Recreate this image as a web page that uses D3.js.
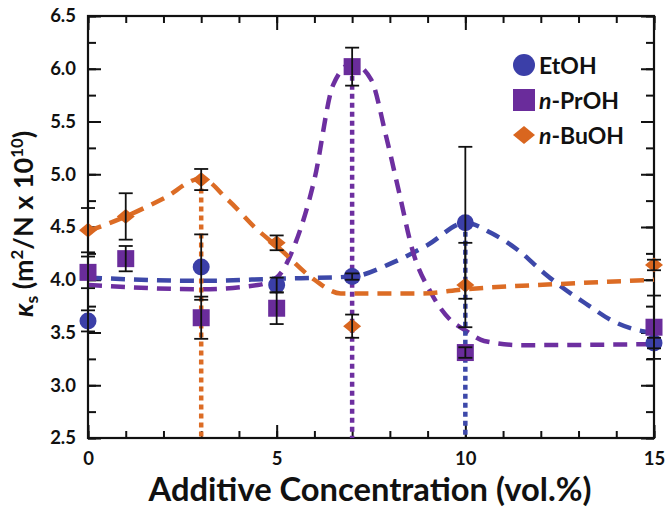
<!DOCTYPE html>
<html>
<head>
<meta charset="utf-8">
<script src="https://cdn.jsdelivr.net/npm/d3@7"></script>
<style>
  body { margin: 0; background: #fff; }
  svg { display: block; font-family: Lato, "Open Sans", sans-serif; font-weight: 700; }
</style>
</head>
<body>
<div id="chart"></div>
<script>
// measured points (value +/- error)
const etohX = [0, 3, 5, 7, 10, 15];
const etohY = [3.61, 4.12, 3.95, 4.03, 4.54, 3.40];
const etohErr = [0.1, 0.31, 0.07, 0.03, 0.72, 0.05];

const prohX = [0, 1, 3, 5, 7, 10, 15];
const prohY = [4.07, 4.2, 3.64, 3.73, 6.02, 3.31, 3.55];
const prohErr = [0.15, 0.12, 0.2, 0.15, 0.18, 0.05, 0.3];

const buohX = [0, 1, 3, 5, 7, 10, 15];
const buohY = [4.47, 4.6, 4.95, 4.35, 3.56, 3.95, 4.14];
const buohErr = [0.21, 0.22, 0.1, 0.07, 0.11, 0.4, 0.05];

// dashed trend curves
const etohFitX = [0, 3, 5, 7, 8, 9, 10, 10.7, 11.4, 12.1, 12.6, 13.25, 13.9, 14.6, 15];
const etohFitY = [4.02, 3.99, 4.01, 4.03, 4.15, 4.33, 4.54, 4.44, 4.28, 4.06, 3.92, 3.76, 3.61, 3.52, 3.5];
const prohFitX = [0, 3, 4.5, 5, 5.5, 6, 6.5, 7, 7.5, 7.9, 8.25, 8.6, 9.1, 9.6, 10, 10.5, 11.5, 15];
const prohFitY = [3.95, 3.91, 3.95, 4.02, 4.35, 4.95, 5.85, 6.05, 5.9, 5.36, 4.82, 4.28, 3.87, 3.62, 3.52, 3.42, 3.38, 3.39];
const buohFitX = [0, 1, 2, 3, 3.7, 4.5, 5, 6, 6.7, 8.8, 10, 12.5, 15];
const buohFitY = [4.46, 4.6, 4.77, 4.96, 4.76, 4.47, 4.32, 4.0, 3.87, 3.87, 3.91, 3.96, 4.0];

// x of the dotted drop line for each series (its peak)
const dropX = [10, 7, 3];

const seriesNames = ['EtOH', 'n-PrOH', 'n-BuOH'];
const markerColors = ['#3b3fa8', '#6a2c9b', '#d9661f'];
const lineColors = ['#3d48a9', '#6d2fa0', '#dc6c25'];
const shapes = ['circle', 'square', 'diamond'];

const xTicksMajor = [0, 5, 10, 15];
const yTicksMajor = ['2.5', '3.0', '3.5', '4.0', '4.5', '5.0', '5.5', '6.0', '6.5'];

const width = 665, height = 508;
const plot = { left: 88, right: 654, top: 16, bottom: 438 };

const svg = d3.select('#chart').append('svg')
  .attr('width', width)
  .attr('height', height);

const x = d3.scaleLinear().domain([0, 15]).range([plot.left, plot.right]);
const y = d3.scaleLinear().domain([2.5, 6.5]).range([plot.bottom, plot.top]);

const series = [
  { xs: etohX, ys: etohY, err: etohErr, fx: etohFitX, fy: etohFitY },
  { xs: prohX, ys: prohY, err: prohErr, fx: prohFitX, fy: prohFitY },
  { xs: buohX, ys: buohY, err: buohErr, fx: buohFitX, fy: buohFitY },
].map((s, i) => ({
  ...s,
  name: seriesNames[i],
  color: markerColors[i],
  lineColor: lineColors[i],
  shape: shapes[i],
  drop: dropX[i],
  points: s.xs.map((v, j) => ({ x: v, y: s.ys[j], e: s.err[j] })),
  fit: s.fx.map((v, j) => [v, s.fy[j]]),
}));

// axes: inward ticks on all four sides
const minorX = d3.range(0, 16);
const minorY = d3.range(2.5, 6.51, 0.25);
const majorY = yTicksMajor.map(Number);

function tickAxis(axisFn, scale, values, size) {
  return axisFn(scale).tickValues(values).tickSize(-size).tickFormat('');
}

const axes = svg.append('g').attr('class', 'axes');

axes.append('g').attr('transform', `translate(0,${plot.bottom})`)
  .call(tickAxis(d3.axisBottom, x, minorX, 7));
axes.append('g').attr('transform', `translate(0,${plot.bottom})`)
  .call(d3.axisBottom(x).tickValues(xTicksMajor).tickSize(-13).tickPadding(14)
    .tickFormat(d3.format('d')));
axes.append('g').attr('transform', `translate(0,${plot.top})`)
  .call(tickAxis(d3.axisTop, x, minorX, 7));
axes.append('g').attr('transform', `translate(0,${plot.top})`)
  .call(tickAxis(d3.axisTop, x, xTicksMajor, 14));

axes.append('g').attr('transform', `translate(${plot.left},0)`)
  .call(tickAxis(d3.axisLeft, y, minorY, 8));
axes.append('g').attr('transform', `translate(${plot.left},0)`)
  .call(d3.axisLeft(y).tickValues(majorY).tickSize(-13).tickPadding(12)
    .tickFormat((d, i) => yTicksMajor[i]));
axes.append('g').attr('transform', `translate(${plot.right},0)`)
  .call(tickAxis(d3.axisRight, y, minorY, 8));
axes.append('g').attr('transform', `translate(${plot.right},0)`)
  .call(tickAxis(d3.axisRight, y, majorY, 13));

axes.selectAll('.domain').remove();
axes.selectAll('.tick line').attr('stroke', '#111').attr('stroke-width', 2);
axes.selectAll('.tick text')
  .attr('fill', '#111')
  .style('font-size', '18.5px')
  .style('font-family', 'Lato, sans-serif')
  .style('font-weight', 700);

axes.append('rect')
  .attr('x', plot.left).attr('y', plot.top)
  .attr('width', plot.right - plot.left)
  .attr('height', plot.bottom - plot.top)
  .attr('fill', 'none')
  .attr('stroke', '#111')
  .attr('stroke-width', 2.2);

// dashed trend curves
const line = d3.line()
  .x(d => x(d[0]))
  .y(d => y(d[1]))
  .curve(d3.curveMonotoneX);

svg.append('g').selectAll('path')
  .data(series)
  .join('path')
  .attr('d', d => line(d.fit))
  .attr('fill', 'none')
  .attr('stroke', d => d.lineColor)
  .attr('stroke-width', 4.5)
  .attr('stroke-dasharray', '14,9');

// dotted drop lines from each peak to the x axis
svg.append('g').selectAll('line')
  .data(series)
  .join('line')
  .attr('x1', d => x(d.drop))
  .attr('x2', d => x(d.drop))
  .attr('y1', d => y(d.points.find(p => p.x === d.drop).y))
  .attr('y2', plot.bottom)
  .attr('stroke', d => d.lineColor)
  .attr('stroke-width', 4.5)
  .attr('stroke-dasharray', '5,4');

// markers
function drawMarker(sel, shape, size) {
  if (shape === 'circle') {
    sel.append('circle').attr('r', size / 2);
  } else if (shape === 'square') {
    sel.append('rect')
      .attr('x', -size / 2).attr('y', -size / 2)
      .attr('width', size).attr('height', size);
  } else {
    const w = size / 2, h = size * 0.41;
    sel.append('path').attr('d', `M0,${-h}L${w},0L0,${h}L${-w},0Z`);
  }
}

const markerGroups = svg.append('g').selectAll('g')
  .data(series)
  .join('g')
  .attr('fill', d => d.color);

markerGroups.each(function (s) {
  d3.select(this).selectAll('g')
    .data(s.points)
    .join('g')
    .attr('transform', p => `translate(${x(p.x)},${y(p.y)})`)
    .each(function () { drawMarker(d3.select(this), s.shape, s.shape === 'diamond' ? 18 : 17); });
});

// error bars
const capW = 7;
const errGroups = svg.append('g')
  .attr('stroke', '#111')
  .attr('stroke-width', 1.8)
  .selectAll('g')
  .data(series.flatMap(s => s.points))
  .join('g');

errGroups.append('line')
  .attr('x1', p => x(p.x)).attr('x2', p => x(p.x))
  .attr('y1', p => y(p.y + p.e)).attr('y2', p => y(p.y - p.e));
errGroups.append('line')
  .attr('x1', p => x(p.x) - capW).attr('x2', p => x(p.x) + capW)
  .attr('y1', p => y(p.y + p.e)).attr('y2', p => y(p.y + p.e));
errGroups.append('line')
  .attr('x1', p => x(p.x) - capW).attr('x2', p => x(p.x) + capW)
  .attr('y1', p => y(p.y - p.e)).attr('y2', p => y(p.y - p.e));

// legend
const legend = svg.append('g').attr('transform', 'translate(524,65)');
const legendRows = legend.selectAll('g')
  .data(series)
  .join('g')
  .attr('transform', (d, i) => `translate(0,${i * 35})`);

legendRows.each(function (d) {
  const g = d3.select(this).attr('fill', d.color);
  drawMarker(g, d.shape, 22);
});

legendRows.append('text')
  .attr('x', 15)
  .attr('y', 8.5)
  .attr('fill', '#111')
  .style('font-size', '23px')
  .each(function (d) {
    const t = d3.select(this);
    if (d.name.startsWith('n-')) {
      t.append('tspan').attr('font-style', 'italic').text('n');
      t.append('tspan').text(d.name.slice(1));
    } else {
      t.text(d.name);
    }
  });

// axis titles, scaled to the width they take in the figure
function fitText(sel, target) {
  const len = sel.node().getComputedTextLength();
  const fs = parseFloat(sel.style('font-size'));
  sel.style('font-size', `${fs * target / len}px`);
}

const xTitle = svg.append('text')
  .attr('x', 370)
  .attr('y', 501)
  .attr('text-anchor', 'middle')
  .attr('fill', '#111')
  .style('font-size', '28px')
  .text('Additive Concentration (vol.%)');
fitText(xTitle, 443);

const yTitle = svg.append('text')
  .attr('transform', 'translate(33,224) rotate(-90)')
  .attr('text-anchor', 'middle')
  .attr('fill', '#111')
  .style('font-size', '27px');
yTitle.append('tspan').attr('font-style', 'italic').text('κ');
yTitle.append('tspan').attr('dy', 5).style('font-size', '0.65em').text('s');
yTitle.append('tspan').attr('dy', -5).text(' (m');
yTitle.append('tspan').attr('dy', -10).style('font-size', '0.62em').text('2');
yTitle.append('tspan').attr('dy', 10).text('/N x 10');
yTitle.append('tspan').attr('dy', -10).style('font-size', '0.62em').text('10');
yTitle.append('tspan').attr('dy', 10).text(')');
</script>
</body>
</html>
